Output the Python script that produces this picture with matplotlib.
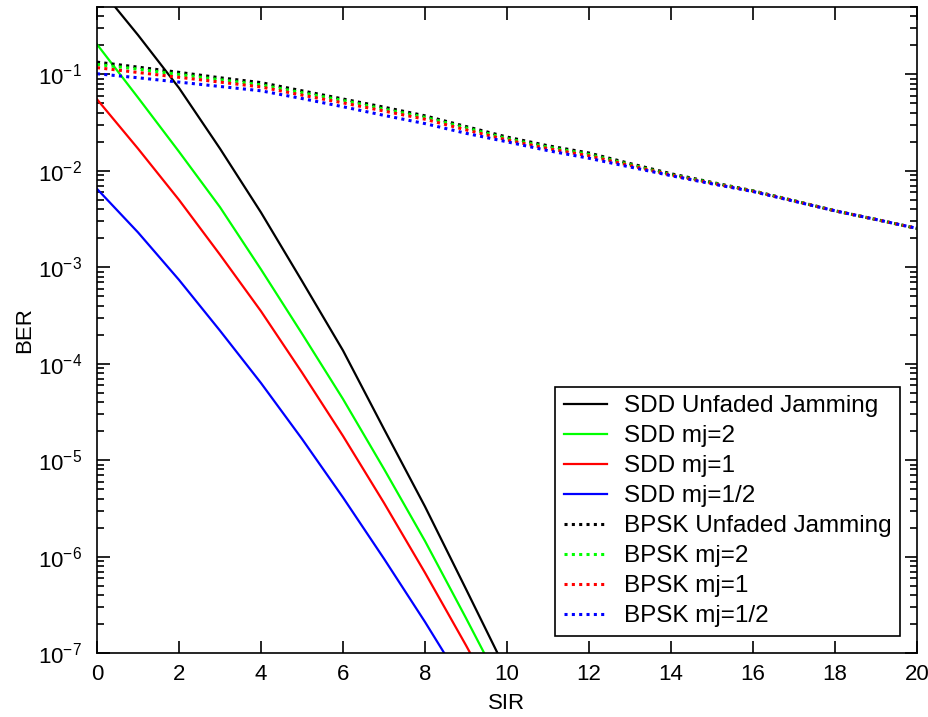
import matplotlib
matplotlib.use("Agg")
import matplotlib.pyplot as plt
from matplotlib.ticker import LogLocator, FixedLocator, NullFormatter, LogFormatterSciNotation

plt.rcParams["font.family"] = ["Liberation Sans", "DejaVu Sans"]
plt.rcParams["mathtext.fontset"] = "custom"
plt.rcParams["mathtext.rm"] = "Liberation Sans"
plt.rcParams["mathtext.default"] = "regular"

# SIR grid for the SDD curves (they fall below the axis floor after ~10)
sir_sdd = [0, 1, 2, 3, 4, 5, 6, 7, 8, 9, 10]
sdd_unfaded = [0.85, 0.256, 0.0724, 0.0170, 3.7e-3, 7.2e-4, 1.37e-4, 2.1e-5, 3.3e-6, 4.6e-7, 6.3e-8]
sdd_mj2 = [0.205, 0.0575, 0.0158, 4.2e-3, 9.5e-4, 2.05e-4, 4.3e-5, 8.1e-6, 1.45e-6, 2.3e-7, 3.5e-8]
sdd_mj1 = [0.0552, 0.0170, 5.0e-3, 1.35e-3, 3.5e-4, 8.1e-5, 1.78e-5, 3.6e-6, 6.8e-7, 1.2e-7, 2.0e-8]
sdd_mjhalf = [6.5e-3, 2.3e-3, 7.4e-4, 2.2e-4, 6.3e-5, 1.66e-5, 4.1e-6, 9.5e-7, 2.1e-7, 4.3e-8, 8.0e-9]

# SIR grid for the uncoded BPSK curves
sir_bpsk = list(range(0, 21))
bpsk_unfaded = [0.134, 0.119, 0.105, 0.0923, 0.0822, 0.0676, 0.0556, 0.0457, 0.0372, 0.0288,
                0.0224, 0.0182, 0.0153, 0.0119, 0.00933, 0.00759, 0.00621, 0.00490, 0.00385,
                0.00313, 0.00253]
bpsk_mj2 = [0.127, 0.1135, 0.100, 0.0881, 0.0780, 0.0646, 0.0537, 0.0437, 0.0359, 0.0279,
            0.0216, 0.0176, 0.0148, 0.0116, 0.00912, 0.00750, 0.00617, 0.00490, 0.00385,
            0.00313, 0.00253]
bpsk_mj1 = [0.1175, 0.1047, 0.0933, 0.0832, 0.0741, 0.0610, 0.0507, 0.0417, 0.0343, 0.0266,
            0.0209, 0.0170, 0.0143, 0.01135, 0.00902, 0.00741, 0.00614, 0.00488, 0.00385,
            0.00313, 0.00253]
bpsk_mjhalf = [0.1016, 0.0923, 0.0832, 0.0750, 0.0676, 0.0562, 0.0462, 0.0376, 0.0309, 0.0245,
               0.0200, 0.0162, 0.0135, 0.01096, 0.00891, 0.00733, 0.00610, 0.00484, 0.00385,
               0.00313, 0.00253]

x_ticks = list(range(0, 21, 2))
y_ticks = [1e-7, 1e-6, 1e-5, 1e-4, 1e-3, 1e-2, 1e-1]

labels = ["SDD Unfaded Jamming", "SDD mj=2", "SDD mj=1", "SDD mj=1/2",
          "BPSK Unfaded Jamming", "BPSK mj=2", "BPSK mj=1", "BPSK mj=1/2"]
colors = ["#000000", "#00ff00", "#ff0000", "#0000ff"]

fig = plt.figure(figsize=(9.29, 7.17), dpi=100)
ax = fig.add_axes([97 / 929, 64 / 717, 820 / 929, 646 / 717])

for y, c, lab in zip([sdd_unfaded, sdd_mj2, sdd_mj1, sdd_mjhalf], colors, labels[:4]):
    ax.semilogy(sir_sdd, y, color=c, lw=1.6, label=lab)
for y, c, lab in zip([bpsk_unfaded, bpsk_mj2, bpsk_mj1, bpsk_mjhalf], colors, labels[4:]):
    ax.semilogy(sir_bpsk, y, color=c, lw=2.2, ls=(0, (1, 1.4)), dash_capstyle="butt", label=lab)

ax.set_xlim(0, 20)
ax.set_ylim(1e-7, 0.5)
ax.xaxis.set_major_locator(FixedLocator(x_ticks))
ax.yaxis.set_major_locator(FixedLocator(y_ticks))
ax.yaxis.set_major_formatter(LogFormatterSciNotation())
ax.yaxis.set_minor_locator(LogLocator(base=10, subs=range(2, 10), numticks=20))
ax.yaxis.set_minor_formatter(NullFormatter())
ax.yaxis.get_offset_text().set_visible(False)
ax.xaxis.get_offset_text().set_visible(False)

ax.tick_params(which="both", direction="in", top=True, right=True, labelsize=16,
               width=1.2, color="#000000")
ax.tick_params(axis="x", pad=8)
ax.tick_params(axis="y", pad=11)
ax.tick_params(which="major", length=9)
ax.tick_params(which="minor", length=5)
for s in ax.spines.values():
    s.set_linewidth(1.2)

ax.set_xlabel("SIR", fontsize=16, labelpad=6)
ax.set_ylabel("BER", fontsize=16, labelpad=2)

leg = ax.legend(loc="lower right", bbox_to_anchor=((900 - 97) / 820, (653 - 636) / 646),
                borderaxespad=0, fontsize=17.5, handlelength=1.78, handletextpad=0.7,
                labelspacing=0.33, frameon=True, fancybox=False, framealpha=1,
                edgecolor="#000000", borderpad=0.35)
leg.get_frame().set_linewidth(1.2)

fig.savefig("out.png", dpi=100)
